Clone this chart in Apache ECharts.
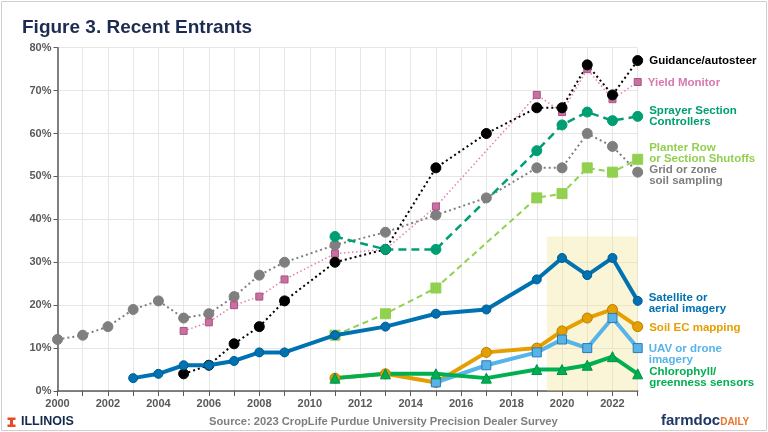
<!DOCTYPE html>
<html><head><meta charset="utf-8">
<script src="https://cdn.jsdelivr.net/npm/echarts/dist/echarts.min.js"></script>
<style>html,body{margin:0;padding:0;background:#fff}#c{width:768px;height:432px}</style>
</head><body><div id="c"></div>
<script>
const n = null;
const years = [2000,2001,2002,2003,2004,2005,2006,2007,2008,2009,2010,2011,2012,2013,2014,2015,2016,2017,2018,2019,2020,2021,2022,2023];
const evenYearLabels = ['2000','2002','2004','2006','2008','2010','2012','2014','2016','2018','2020','2022'];
const yTicks = [0,10,20,30,40,50,60,70,80];

const gridSampling = [12,13,15,19,21,17,18,22,27,30,n,34,n,37,n,41,n,45,n,52,52,60,57,51];
const yieldMonitor = [n,n,n,n,n,14,16,20,22,26,n,32,n,33,n,43,n,n,n,69,65,75,68,72];
const guidance     = [n,n,n,n,n,4,6,11,15,21,n,30,n,33,n,52,n,60,n,66,66,76,69,77];
const sprayer      = [n,n,n,n,n,n,n,n,n,n,n,36,n,33,n,33,n,n,n,56,62,65,63,64];
const planter      = [n,n,n,n,n,n,n,n,n,n,n,13,n,18,n,24,n,n,n,45,46,52,51,54];
const satellite    = [n,n,n,3,4,6,6,7,9,9,n,13,n,15,n,18,n,19,n,26,31,27,31,21];
const soilEC       = [n,n,n,n,n,n,n,n,n,n,n,3,n,4,n,2,n,9,n,10,14,17,19,15];
const uav          = [n,n,n,n,n,n,n,n,n,n,n,n,n,n,n,2,n,6,n,9,12,10,17,10];
const chlorophyll  = [n,n,n,n,n,n,n,n,n,n,n,3,n,4,n,4,n,3,n,5,5,6,8,4];

const seriesNames = ['Grid or zone\nsoil sampling','Yield Monitor','Guidance/autosteer','Sprayer Section\nControllers','Planter Row\nor Section Shutoffs','Satellite or\naerial imagery','Soil EC mapping','UAV or drone\nimagery','Chlorophyll/\ngreenness sensors'];
const highlightYears = [2019.4, 2023];
const highlightRange = [0, 36];

const FONT = 'Liberation Sans, Arial, sans-serif';

function mk(name, vals, st) {
  const pts = [];
  years.forEach((y, i) => { if (vals[i] != null) pts.push([y, vals[i]]); });
  const last = pts.length - 1;
  const data = pts.map((p, i) => i === last ? {
    value: p,
    label: {
      show: true, position: 'right', distance: 6, offset: [0, st.dy || 0],
      formatter: name, color: st.text || st.color, fontSize: 11.5, fontWeight: 'bold',
      lineHeight: 11, fontFamily: FONT, align: 'left'
    }
  } : p);
  return {
    type: 'line', name: name, data: data, connectNulls: true,
    symbol: st.symbol, symbolSize: st.size, showSymbol: true,
    lineStyle: { color: st.color, width: st.width, type: st.type },
    itemStyle: { color: st.fill || st.color, borderColor: st.border || st.fill || st.color, borderWidth: st.bw || 1, opacity: 1 },
    z: st.z || 2, emphasis: { disabled: true }, silent: true, animation: false
  };
}

const series = [
  mk(seriesNames[0], gridSampling, { color: '#7f7f7f', width: 2, type: [2, 3], symbol: 'circle', size: 10, dy: 3 }),
  mk(seriesNames[1], yieldMonitor, { color: '#e07fb3', fill: '#c96fa2', border: '#a8547f', width: 1.5, type: [1.5, 2.5], symbol: 'rect', size: 7, dy: 1, text: '#d878ad' }),
  mk(seriesNames[2], guidance, { color: '#000000', width: 2, type: [2, 3], symbol: 'circle', size: 10, dy: 0 }),
  mk(seriesNames[3], sprayer, { color: '#009e73', width: 2.5, type: [8, 5], symbol: 'circle', size: 10, dy: 0 }),
  mk(seriesNames[4], planter, { color: '#92d050', width: 2, type: [6, 4], symbol: 'rect', size: 10, dy: -6 }),
  mk(seriesNames[5], satellite, { color: '#0072b2', border: '#005a8e', width: 4, type: 'solid', symbol: 'circle', size: 9, dy: 2, z: 4 }),
  mk(seriesNames[6], soilEC, { color: '#e69f00', border: '#b77f00', width: 4, type: 'solid', symbol: 'circle', size: 10, dy: 1.5, z: 4, text: '#e69f00' }),
  mk(seriesNames[7], uav, { color: '#56b4e9', border: '#2e79b8', width: 4, type: 'solid', symbol: 'rect', size: 9, dy: 6, z: 4 }),
  mk(seriesNames[8], chlorophyll, { color: '#00b050', border: '#00904a', width: 4, type: 'solid', symbol: 'triangle', size: 10, dy: 3.5, z: 4 })
];

series[0].markArea = {
  silent: true,
  itemStyle: { color: 'rgba(240,228,140,0.36)' },
  data: [[{ xAxis: highlightYears[0], yAxis: highlightRange[0] }, { xAxis: highlightYears[1], yAxis: highlightRange[1] }]]
};

const chart = echarts.init(document.getElementById('c'), null, { renderer: 'canvas' });
chart.setOption({
  backgroundColor: '#ffffff',
  animation: false,
  textStyle: { fontFamily: FONT },
  title: {
    text: 'Figure 3. Recent Entrants', left: 17, top: 13,
    textStyle: { fontSize: 19, fontWeight: 'bold', color: '#1c2b4f', fontFamily: FONT }
  },
  grid: { left: 57.5, right: 130.3, top: 47.7, bottom: 41 },
  xAxis: {
    type: 'value', min: 2000, max: 2023, interval: 1,
    axisLine: { show: true, onZero: false, lineStyle: { color: '#595959', width: 1.5 } },
    axisTick: { show: true, length: 5, lineStyle: { color: '#595959' } },
    axisLabel: {
      margin: 7, fontSize: 11, fontWeight: 'bold', color: '#595959', fontFamily: FONT,
      formatter: v => evenYearLabels.indexOf(String(v)) >= 0 ? String(v) : ''
    },
    splitLine: { show: true, lineStyle: { color: '#e6e6e6', width: 1 } }
  },
  yAxis: {
    type: 'value', min: yTicks[0], max: yTicks[yTicks.length - 1], interval: 10,
    axisLine: { show: true, lineStyle: { color: '#595959', width: 1.5 } },
    axisTick: { show: true, length: 4, lineStyle: { color: '#595959' } },
    axisLabel: { margin: 6, fontSize: 11, fontWeight: 'bold', color: '#595959', fontFamily: FONT, formatter: '{value}%' },
    splitLine: { show: true, lineStyle: { color: '#e6e6e6', width: 1 } }
  },
  series: series,
  graphic: [
    { type: 'rect', shape: { x: 1.5, y: 1.5, width: 765, height: 429 }, style: { fill: 'none', stroke: '#d0d0d0', lineWidth: 1 }, silent: true },
    { type: 'polygon', shape: { points: [[7.5,417.5],[15.5,417.5],[15.5,420],[13,420],[13,424.5],[15.5,424.5],[15.5,427],[7.5,427],[7.5,424.5],[10,424.5],[10,420],[7.5,420]] }, style: { fill: '#e84a27' }, silent: true },
    { type: 'text', left: 21, top: 415.5, style: { text: 'ILLINOIS', fontSize: 12.5, fontWeight: 'bold', fill: '#13294b', fontFamily: FONT } },
    { type: 'text', left: 209, top: 416, style: { text: 'Source: 2023 CropLife Purdue University Precision Dealer Survey', fontSize: 11.2, fontWeight: 'bold', fill: '#7f7f7f', fontFamily: FONT } },
    { type: 'text', left: 661, top: 413, style: {
        text: '{a|farmdoc}{b|DAILY}',
        rich: {
          a: { fontSize: 15, fontWeight: 'bold', fill: '#1f3864', color: '#1f3864', fontFamily: FONT },
          b: { fontSize: 10, fontWeight: 'bold', fill: '#e8742c', color: '#e8742c', fontFamily: FONT, padding: [3, 0, 0, 0] }
        } } }
  ]
});
</script>
</body></html>
